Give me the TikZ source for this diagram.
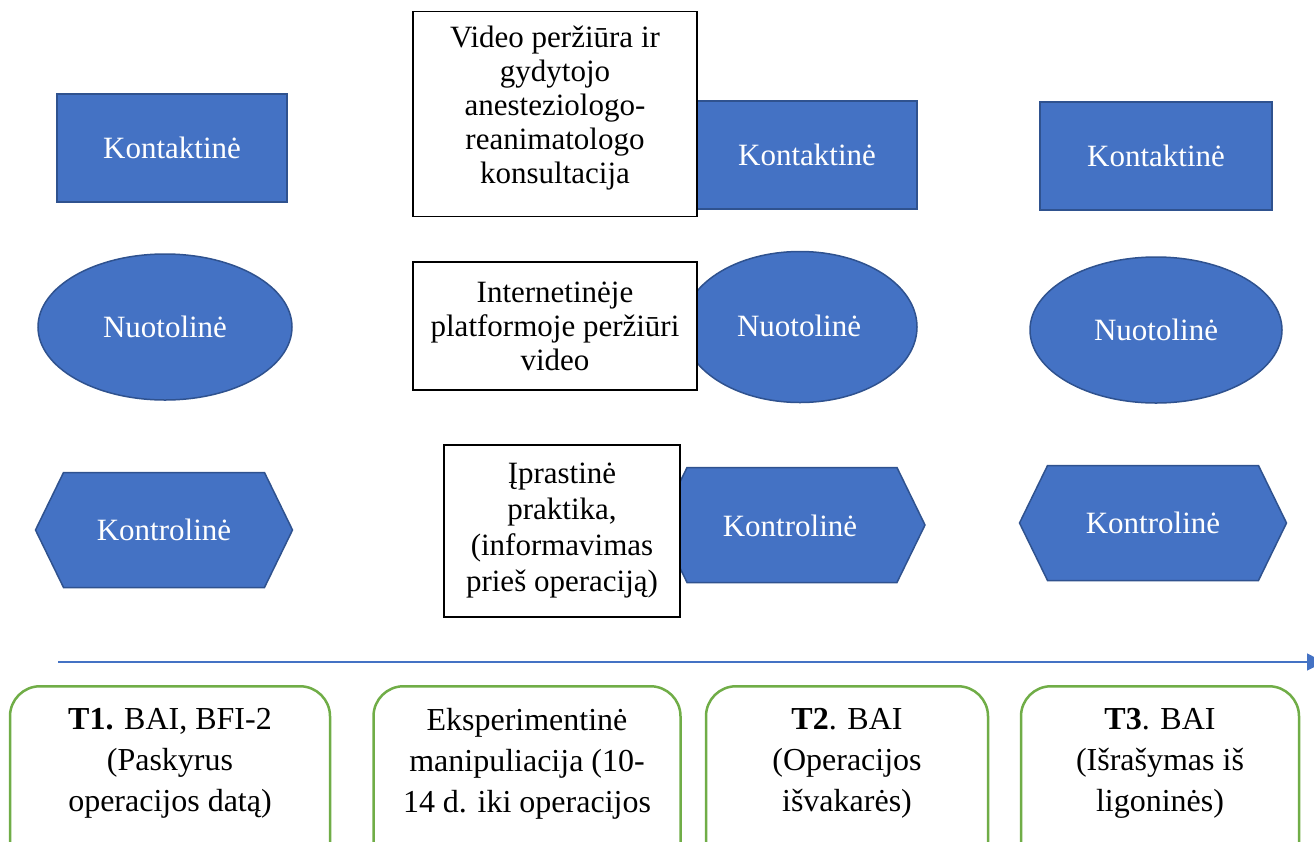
\documentclass[tikz,border=0pt]{standalone}
\usepackage{fontspec}
\setmainfont{Liberation Serif}
\usetikzlibrary{shapes.geometric,shapes.symbols,arrows.meta}
\definecolor{boxblue}{HTML}{4472C4}
\definecolor{edgeblue}{HTML}{2F528F}
\definecolor{boxgreen}{HTML}{70AD47}

\begin{document}
\begin{tikzpicture}[x=1pt,y=-1pt,
  blueshape/.style={fill=boxblue,draw=edgeblue,line width=1.5pt,text=white,
    font=\fontsize{31}{34}\selectfont,inner sep=0pt},
  rectshape/.style={blueshape,rectangle,minimum width=230pt,minimum height=108pt},
  ovalshape/.style={blueshape,ellipse,minimum width=252pt,minimum height=146pt},
  hexshape/.style={blueshape,signal,signal to=west and east,signal pointer angle=128,
    minimum width=262pt,minimum height=115pt},
  whitebox/.style={draw=black,fill=white,line width=1.2pt,align=center,
    font=\fontsize{31}{34}\selectfont,inner sep=0pt},
  stagebox/.style={draw=boxgreen,fill=white,line width=2.5pt,rounded corners=30pt,
    align=center,anchor=north,font=\fontsize{32}{41}\selectfont,
    inner ysep=22pt,text depth=160pt}]
  \useasboundingbox (0,0) rectangle (1314,841);
  \clip (0,0) rectangle (1314,841);

  % first column
  \node[rectshape] (kont1) at (172,148) {Kontaktinė};
  \node[ovalshape,minimum width=254pt] (nuot1) at (165,327) {Nuotolinė};
  \node[hexshape,minimum width=257pt] (ktrl1) at (164,530) {Kontrolinė};

  % second column, partly under the white boxes
  \node[rectshape,minimum width=220pt] (kont2) at (807,155) {Kontaktinė};
  \node[ovalshape,minimum width=234pt,minimum height=151pt] (nuot2) at (800,327) {};
  \node[hexshape,minimum width=266pt] (ktrl2) at (792,525) {};
  \node[text=white,font=\fontsize{31}{34}\selectfont] (nuot2txt) at (799,326) {Nuotolinė};
  \node[text=white,font=\fontsize{31}{34}\selectfont] (ktrl2txt) at (790,526) {Kontrolinė};

  % third column
  \node[rectshape,minimum width=232pt] (kont3) at (1156,156) {Kontaktinė};
  \node[ovalshape] (nuot3) at (1156,330) {Nuotolinė};
  \node[hexshape,minimum width=267pt] (ktrl3) at (1153,523) {Kontrolinė};

  % interventions
  \node[whitebox,minimum width=284pt,minimum height=205pt] (video) at (555,114) {};
  \node[font=\fontsize{31}{34}\selectfont,align=center] (videotxt) at (555,108)
    {Video peržiūra ir\\gydytojo\\anesteziologo-\\reanimatologo\\konsultacija};
  \node[whitebox,minimum width=284pt,minimum height=128pt] (online) at (555,326)
    {Internetinėje\\platformoje peržiūri\\video};
  \node[whitebox,minimum width=236pt,minimum height=172pt,
    font=\fontsize{31}{36}\selectfont] (usual) at (562,531)
    {Įprastinė\\praktika,\\(informavimas\\prieš operaciją)};

  % time line
  \coordinate (tstart) at (58,662);
  \coordinate (tend) at (1324,662);
  \draw[boxblue,line width=1.5pt,-{Triangle[length=17pt,width=17pt]}] (tstart) -- (tend);

  % measurements
  \node[stagebox,minimum width=320pt] (t1) at (170,685)
    {\textbf{T1.} BAI, BFI-2\\(Paskyrus\\operacijos datą)};
  \node[stagebox,minimum width=307pt] (exp) at (527,685)
    {Eksperimentinė\\manipuliacija (10-\\14 d. iki operacijos};
  \node[stagebox,minimum width=282pt] (t2) at (847,685)
    {\textbf{T2}. BAI\\(Operacijos\\išvakarės)};
  \node[stagebox,minimum width=278pt] (t3) at (1160,685)
    {\textbf{T3}. BAI\\(Išrašymas iš\\ligoninės)};
\end{tikzpicture}
\end{document}
